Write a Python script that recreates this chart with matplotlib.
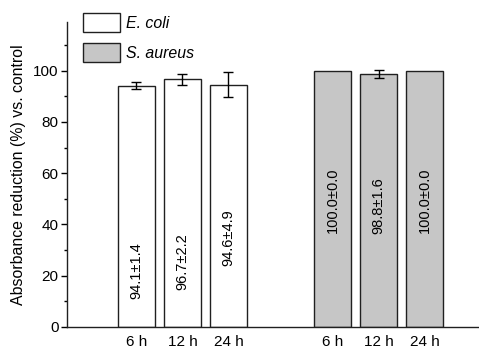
import matplotlib
matplotlib.use("Agg")
import matplotlib.pyplot as plt
from matplotlib.patches import Patch
from matplotlib.ticker import MultipleLocator

plt.rcParams['font.family'] = ['Liberation Sans', 'DejaVu Sans']

# data
times = ["6 h", "12 h", "24 h"]
ecoli_mean = [94.1, 96.7, 94.6]
ecoli_sd = [1.4, 2.2, 4.9]
saureus_mean = [100.0, 98.8, 100.0]
saureus_sd = [0.0, 1.6, 0.0]
ecoli_label_y = [22, 25.7, 34.7]
saureus_label_y = [49.5, 47.5, 49.5]

ecoli_x = [1, 2, 3]
saureus_x = [5.27, 6.27, 7.27]

fig = plt.figure(figsize=(4.79, 3.49), dpi=100)
ax = fig.add_axes([67 / 479, 22 / 349, 412 / 479, 305 / 349])

bw = 0.8
ekw = dict(ecolor="black", capsize=3.5, elinewidth=1, capthick=1)
ax.bar(ecoli_x, ecoli_mean, width=bw, color="white", edgecolor="#202020", lw=1,
       yerr=ecoli_sd, error_kw=ekw)
ax.bar(saureus_x, saureus_mean, width=bw, color="#c6c6c6", edgecolor="#202020", lw=1,
       yerr=[s if s > 0 else float("nan") for s in saureus_sd], error_kw=ekw)

for x, m, s, yl in zip(ecoli_x, ecoli_mean, ecoli_sd, ecoli_label_y):
    ax.text(x, yl, "%.1f±%.1f" % (m, s), rotation=90, ha="center", va="center", fontsize=10.5)
for x, m, s, yl in zip(saureus_x, saureus_mean, saureus_sd, saureus_label_y):
    ax.text(x, yl, "%.1f±%.1f" % (m, s), rotation=90, ha="center", va="center", fontsize=10.5)

ax.set_xlim(-0.51, 8.45)
ax.set_ylim(0, 119)
ax.set_xticks(ecoli_x + saureus_x)
ax.set_xticklabels(times + times)
ax.tick_params(axis="x", length=0, pad=6, labelsize=11)
ax.yaxis.set_major_locator(MultipleLocator(20))
ax.yaxis.set_minor_locator(MultipleLocator(10))
ax.tick_params(axis="y", which="major", length=4, width=1, labelsize=11, pad=2)
ax.tick_params(axis="y", which="minor", length=2.5, width=1)
for s in ["top", "right"]:
    ax.spines[s].set_visible(False)
for s in ["left", "bottom"]:
    ax.spines[s].set_linewidth(1)
    ax.spines[s].set_color("#202020")

ax.set_ylabel("Absorbance reduction (%) vs. control", fontsize=11.4)
ax.yaxis.set_label_coords(-0.1, 0.5)

handles = [Patch(facecolor="white", edgecolor="#202020", lw=1, label="E. coli"),
           Patch(facecolor="#c6c6c6", edgecolor="#202020", lw=1, label="S. aureus")]
leg = fig.legend(handles=handles, loc="upper left", bbox_to_anchor=(83 / 479, 1 - 13 / 349),
                 frameon=False, fontsize=11.4, handlelength=2.35, handleheight=1.45,
                 handletextpad=0.35, labelspacing=0.7, borderpad=0, borderaxespad=0)
for t in leg.get_texts():
    t.set_fontstyle("italic")

fig.savefig("out.png", dpi=100)
